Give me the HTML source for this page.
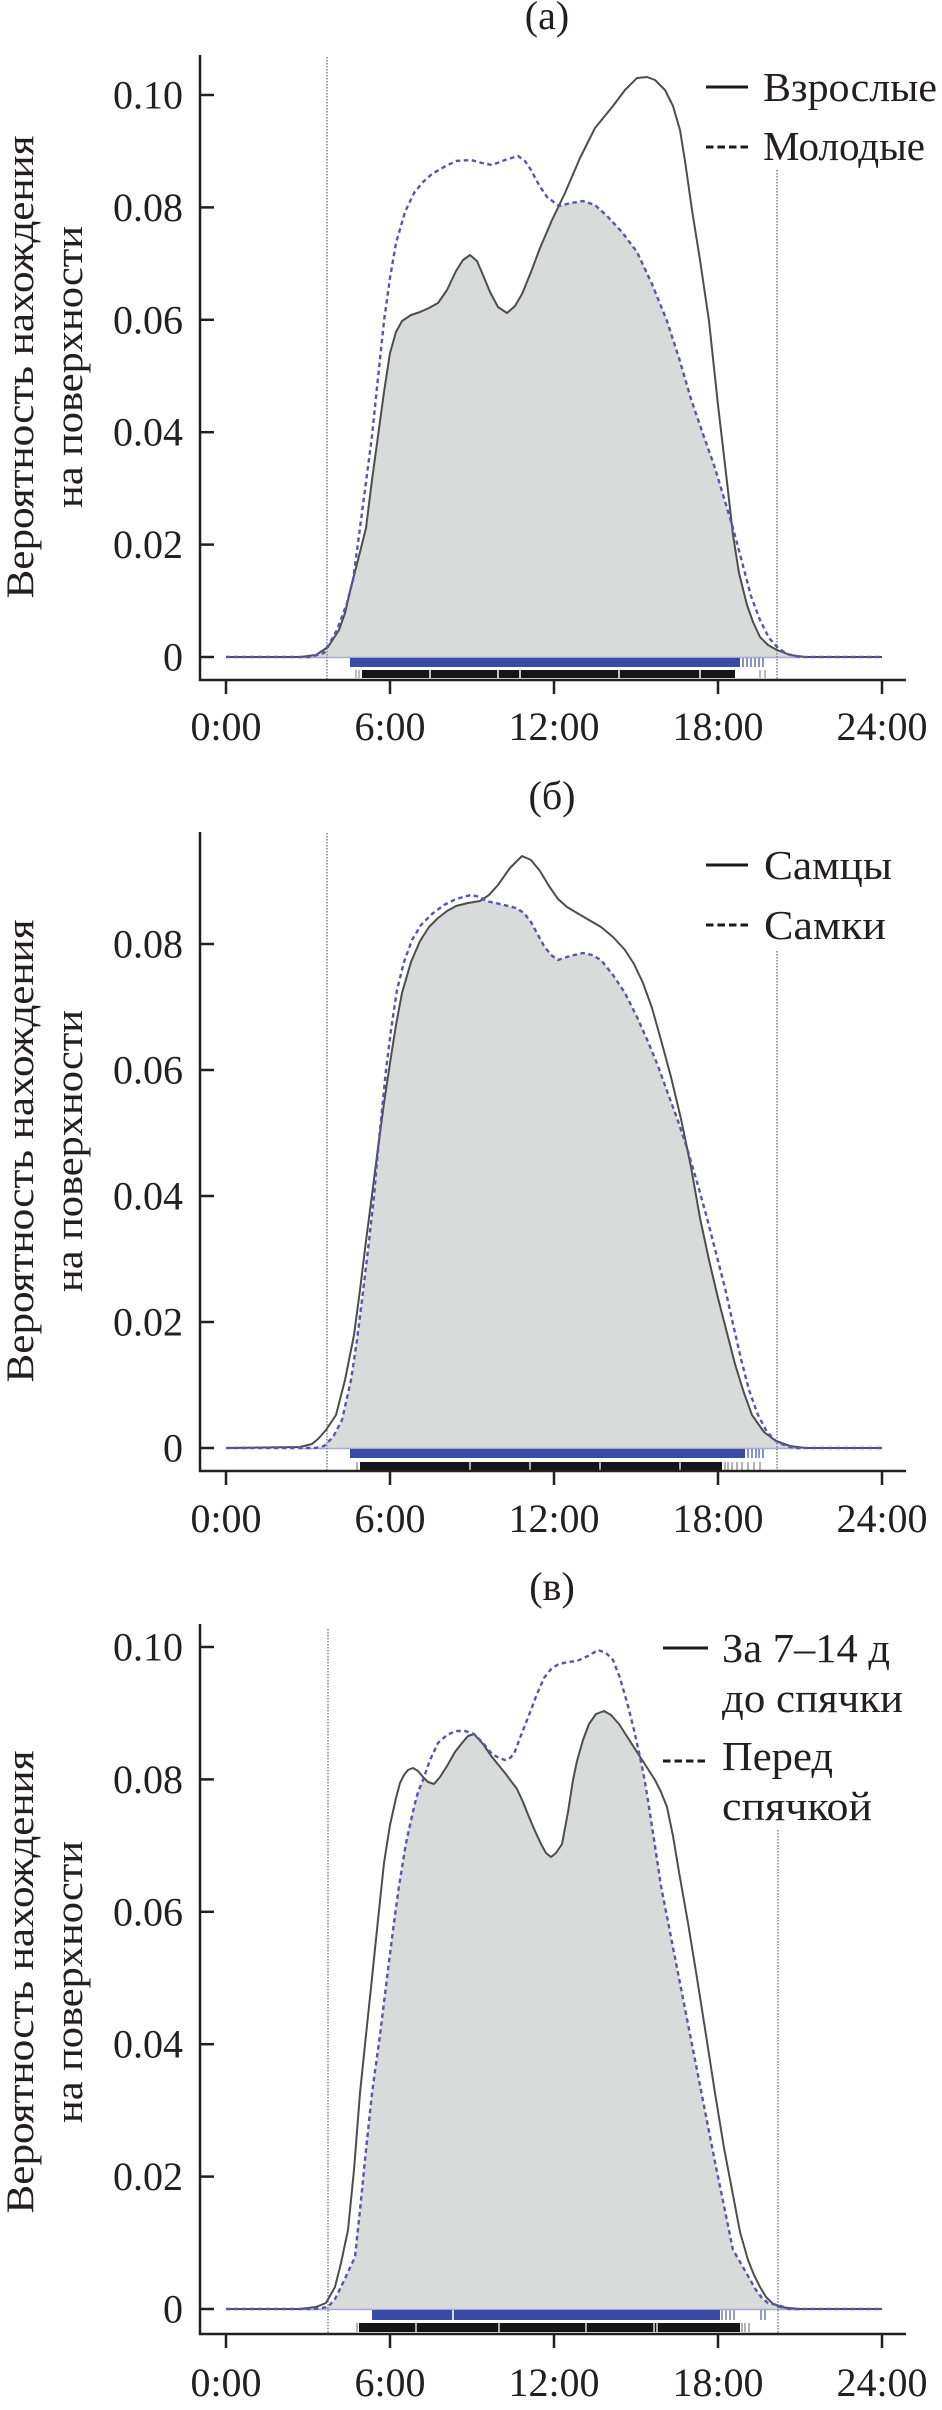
<!DOCTYPE html>
<html>
<head>
<meta charset="utf-8">
<style>
html,body{margin:0;padding:0;background:#ffffff;}
svg{display:block;}
</style>
</head>
<body>
<svg width="942" height="2410" viewBox="0 0 942 2410" xmlns="http://www.w3.org/2000/svg" font-family="'Liberation Serif', 'Noto Serif CJK SC', serif">
<rect x="0" y="0" width="942" height="2410" fill="#ffffff"/>
<defs>
<clipPath id="ca"><path d="M226,657 L310,657 L324,653 L337,630 L347,603 L353,580 L360,528 L366,482 L372,436 L378,378 L384,321 L390,278 L396,243 L405,212 L414,193 L423,182 L432,174 L444,167 L456,161 L471,160 L482,163 L492,165 L505,160 L518,156 L525,161 L531,170 L539,185 L547,197 L559,206 L571,203 L583,201 L595,205 L607,216 L622,232 L637,252 L652,284 L667,321 L679,358 L691,399 L703,434 L715,468 L724,498 L733,528 L742,562 L751,596 L760,620 L769,638 L778,648 L787,654 L800,657 L882,657 Z"/></clipPath>
<clipPath id="cb"><path d="M226,1448 L315,1448 L324,1446 L333,1437 L342,1420 L351,1380 L357,1340 L362,1300 L368,1250 L374,1196 L378,1150 L382,1110 L386,1070 L391,1030 L397,990 L404,962 L412,940 L421,925 L432,914 L444,905 L456,899 L471,895 L480,897 L486,901 L500,904 L516,908 L524,913 L531,922 L538,935 L544,946 L551,955 L558,960 L570,956 L583,953 L592,955 L601,960 L613,975 L625,993 L637,1017 L649,1044 L658,1066 L667,1091 L677,1118 L687,1148 L697,1182 L707,1218 L716,1253 L725,1288 L733,1324 L741,1359 L749,1390 L758,1415 L767,1432 L776,1441 L786,1446 L796,1448 L882,1448 Z"/></clipPath>
<clipPath id="cc"><path d="M226,2309 L315,2309 L328,2307 L335,2299 L341,2287 L348,2272 L355,2257 L360,2210 L366,2150 L372,2093 L380,2035 L387,1978 L393,1930 L399,1886 L406,1843 L414,1807 L418,1792 L423,1780 L430,1760 L438,1743 L447,1735 L456,1731 L465,1731 L474,1734 L483,1743 L492,1754 L499,1758 L505,1760 L510,1758 L514,1754 L520,1738 L529,1715 L537,1694 L544,1678 L552,1668 L559,1664 L568,1662 L577,1661 L588,1656 L598,1650 L606,1653 L613,1660 L620,1678 L628,1706 L634,1730 L640,1757 L645,1782 L649,1807 L655,1846 L661,1886 L670,1932 L679,1978 L688,2024 L697,2070 L706,2116 L715,2162 L724,2206 L733,2250 L739,2260 L748,2276 L756,2290 L762,2298 L768,2303 L781,2306 L789,2309 L882,2309 Z"/></clipPath>
</defs>

<!-- ===================== PANEL A ===================== -->
<text x="547" y="29" font-size="40" text-anchor="middle" fill="#231f20">(а)</text>
<!-- fill -->
<path d="M226,657 L300,657 L316,655 L328,647 L339,630 L345,613 L351,587 L358,560 L366,528 L372,480 L378,436 L384,392 L390,353 L396,332 L402,321 L411,315 L420,312 L429,308 L438,303 L447,290 L456,271 L463,260 L470,255 L477,261 L483,275 L490,292 L498,307 L507,313 L515,306 L522,294 L531,272 L540,248 L552,220 L565,193 L580,158 L595,128 L613,106 L625,90 L637,78 L647,77 L655,80 L665,90 L673,106 L680,130 L685,161 L692,210 L700,260 L709,321 L718,405 L727,482 L733,535 L739,573 L747,605 L753,622 L760,637 L768,645 L777,650 L790,655 L805,657 L882,657 Z" fill="#d9dada" clip-path="url(#ca)"/>
<line x1="300" y1="657.5" x2="800" y2="657.5" stroke="#a9a9d6" stroke-width="1.5"/>
<!-- dotted verticals -->
<line x1="327" y1="57" x2="327" y2="679" stroke="#8a8a8a" stroke-width="1.6" stroke-dasharray="1.5,1.5"/>
<line x1="777" y1="170" x2="777" y2="679" stroke="#8a8a8a" stroke-width="1.6" stroke-dasharray="1.5,1.5"/>
<!-- solid -->
<path d="M226,657 L300,657 L316,655 L328,647 L339,630 L345,613 L351,587 L358,560 L366,528 L372,480 L378,436 L384,392 L390,353 L396,332 L402,321 L411,315 L420,312 L429,308 L438,303 L447,290 L456,271 L463,260 L470,255 L477,261 L483,275 L490,292 L498,307 L507,313 L515,306 L522,294 L531,272 L540,248 L552,220 L565,193 L580,158 L595,128 L613,106 L625,90 L637,78 L647,77 L655,80 L665,90 L673,106 L680,130 L685,161 L692,210 L700,260 L709,321 L718,405 L727,482 L733,535 L739,573 L747,605 L753,622 L760,637 L768,645 L777,650 L790,655 L805,657 L882,657" fill="none" stroke="#4d4d4d" stroke-width="2" stroke-linejoin="round"/>
<!-- dashed -->
<path d="M226,657 L310,657 L324,653 L337,630 L347,603 L353,580 L360,528 L366,482 L372,436 L378,378 L384,321 L390,278 L396,243 L405,212 L414,193 L423,182 L432,174 L444,167 L456,161 L471,160 L482,163 L492,165 L505,160 L518,156 L525,161 L531,170 L539,185 L547,197 L559,206 L571,203 L583,201 L595,205 L607,216 L622,232 L637,252 L652,284 L667,321 L679,358 L691,399 L703,434 L715,468 L724,498 L733,528 L742,562 L751,596 L760,620 L769,638 L778,648 L787,654 L800,657 L882,657" fill="none" stroke="#5656ad" stroke-width="2.4" stroke-dasharray="4.5,3.5" stroke-linejoin="round"/>
<!-- rugs -->
<rect x="350" y="658" width="390" height="9" fill="#3a4ba6"/>
<g stroke="#4a5ab0" stroke-width="1.3">
<line x1="743" y1="658" x2="743" y2="667"/><line x1="747" y1="658" x2="747" y2="667"/><line x1="751" y1="658" x2="751" y2="667"/><line x1="755" y1="658" x2="755" y2="667"/><line x1="759" y1="658" x2="759" y2="667"/><line x1="763" y1="658" x2="763" y2="667"/>
</g>
<rect x="362" y="670" width="373" height="8" fill="#151515"/>
<g stroke="#ffffff" stroke-width="1.5">
<line x1="430" y1="670" x2="430" y2="678"/><line x1="498" y1="670" x2="498" y2="678"/><line x1="520" y1="670" x2="520" y2="678"/><line x1="619" y1="670" x2="619" y2="678"/><line x1="700" y1="670" x2="700" y2="678"/>
</g>
<g stroke="#777" stroke-width="1">
<line x1="356" y1="670" x2="356" y2="678"/><line x1="359" y1="670" x2="359" y2="678"/><line x1="760" y1="670" x2="760" y2="678"/><line x1="765" y1="670" x2="765" y2="678"/>
</g>
<!-- axes -->
<g stroke="#231f20" stroke-width="2.5" fill="none">
<line x1="200" y1="55" x2="200" y2="681"/>
<line x1="199" y1="680" x2="906" y2="680"/>
<line x1="200" y1="95" x2="214" y2="95"/>
<line x1="200" y1="207.4" x2="214" y2="207.4"/>
<line x1="200" y1="319.8" x2="214" y2="319.8"/>
<line x1="200" y1="432.2" x2="214" y2="432.2"/>
<line x1="200" y1="544.6" x2="214" y2="544.6"/>
<line x1="200" y1="657" x2="214" y2="657"/>
<line x1="226" y1="680" x2="226" y2="694"/>
<line x1="390" y1="680" x2="390" y2="694"/>
<line x1="554" y1="680" x2="554" y2="694"/>
<line x1="718" y1="680" x2="718" y2="694"/>
<line x1="882" y1="680" x2="882" y2="694"/>
</g>
<g font-size="40" fill="#231f20" text-anchor="end">
<text x="183" y="108.5">0.10</text>
<text x="183" y="220.9">0.08</text>
<text x="183" y="333.3">0.06</text>
<text x="183" y="445.7">0.04</text>
<text x="183" y="558.1">0.02</text>
<text x="183" y="670.5">0</text>
</g>
<g font-size="40" fill="#231f20" text-anchor="middle">
<text x="226" y="740">0:00</text>
<text x="390" y="740">6:00</text>
<text x="554" y="740">12:00</text>
<text x="718" y="740">18:00</text>
<text x="882" y="740">24:00</text>
</g>
<g font-size="39" fill="#231f20" text-anchor="middle">
<text transform="translate(33,367) rotate(-90)" textLength="463" lengthAdjust="spacingAndGlyphs">Вероятность нахождения</text>
<text transform="translate(82,367) rotate(-90)" textLength="282" lengthAdjust="spacingAndGlyphs">на поверхности</text>
</g>
<!-- legend -->
<line x1="706" y1="87" x2="748" y2="87" stroke="#1a1a1a" stroke-width="3"/>
<line x1="706" y1="147" x2="748" y2="147" stroke="#1a1a1a" stroke-width="3" stroke-dasharray="7.5,4"/>
<g font-size="41" fill="#231f20">
<text x="763" y="101" textLength="174" lengthAdjust="spacingAndGlyphs">Взрослые</text>
<text x="763" y="160" textLength="162" lengthAdjust="spacingAndGlyphs">Молодые</text>
</g>

<!-- ===================== PANEL B ===================== -->
<text x="552" y="809" font-size="40" text-anchor="middle" fill="#231f20">(б)</text>
<path d="M226,1448 L300,1447 L312,1444 L318,1439 L326,1430 L336,1415 L345,1380 L354,1335 L360,1290 L366,1241 L372,1195 L378,1148 L384,1103 L390,1063 L396,1025 L402,993 L411,962 L420,941 L429,927 L438,918 L447,911 L456,906 L468,903 L480,901 L489,895 L498,885 L510,868 L522,856 L531,860 L540,871 L549,886 L558,899 L567,907 L577,913 L589,920 L601,927 L613,937 L625,950 L634,964 L643,983 L652,1008 L661,1040 L671,1077 L681,1119 L691,1167 L700,1218 L709,1260 L718,1298 L727,1333 L735,1364 L744,1393 L752,1415 L764,1432 L776,1441 L790,1446 L805,1448 L882,1448 Z" fill="#d9dada" clip-path="url(#cb)"/>
<line x1="300" y1="1448.5" x2="800" y2="1448.5" stroke="#a9a9d6" stroke-width="1.5"/>
<line x1="327" y1="833" x2="327" y2="1470" stroke="#8a8a8a" stroke-width="1.6" stroke-dasharray="1.5,1.5"/>
<line x1="777" y1="951" x2="777" y2="1470" stroke="#8a8a8a" stroke-width="1.6" stroke-dasharray="1.5,1.5"/>
<path d="M226,1448 L300,1447 L312,1444 L318,1439 L326,1430 L336,1415 L345,1380 L354,1335 L360,1290 L366,1241 L372,1195 L378,1148 L384,1103 L390,1063 L396,1025 L402,993 L411,962 L420,941 L429,927 L438,918 L447,911 L456,906 L468,903 L480,901 L489,895 L498,885 L510,868 L522,856 L531,860 L540,871 L549,886 L558,899 L567,907 L577,913 L589,920 L601,927 L613,937 L625,950 L634,964 L643,983 L652,1008 L661,1040 L671,1077 L681,1119 L691,1167 L700,1218 L709,1260 L718,1298 L727,1333 L735,1364 L744,1393 L752,1415 L764,1432 L776,1441 L790,1446 L805,1448 L882,1448" fill="none" stroke="#4d4d4d" stroke-width="2" stroke-linejoin="round"/>
<path d="M226,1448 L315,1448 L324,1446 L333,1437 L342,1420 L351,1380 L357,1340 L362,1300 L368,1250 L374,1196 L378,1150 L382,1110 L386,1070 L391,1030 L397,990 L404,962 L412,940 L421,925 L432,914 L444,905 L456,899 L471,895 L480,897 L486,901 L500,904 L516,908 L524,913 L531,922 L538,935 L544,946 L551,955 L558,960 L570,956 L583,953 L592,955 L601,960 L613,975 L625,993 L637,1017 L649,1044 L658,1066 L667,1091 L677,1118 L687,1148 L697,1182 L707,1218 L716,1253 L725,1288 L733,1324 L741,1359 L749,1390 L758,1415 L767,1432 L776,1441 L786,1446 L796,1448 L882,1448" fill="none" stroke="#5656ad" stroke-width="2.4" stroke-dasharray="4.5,3.5" stroke-linejoin="round"/>
<!-- rugs -->
<rect x="350" y="1449" width="395" height="9" fill="#3a4ba6"/>
<g stroke="#4a5ab0" stroke-width="1.3">
<line x1="748" y1="1449" x2="748" y2="1458"/><line x1="752" y1="1449" x2="752" y2="1458"/><line x1="756" y1="1449" x2="756" y2="1458"/><line x1="759" y1="1449" x2="759" y2="1458"/><line x1="763" y1="1449" x2="763" y2="1458"/>
</g>
<rect x="360" y="1462" width="362" height="8" fill="#151515"/>
<g stroke="#ffffff" stroke-width="1.3">
<line x1="470" y1="1462" x2="470" y2="1470"/><line x1="530" y1="1462" x2="530" y2="1470"/><line x1="600" y1="1462" x2="600" y2="1470"/><line x1="680" y1="1462" x2="680" y2="1470"/>
</g>
<g stroke="#666" stroke-width="1">
<line x1="357" y1="1462" x2="357" y2="1470"/><line x1="725" y1="1462" x2="725" y2="1470"/><line x1="728" y1="1462" x2="728" y2="1470"/><line x1="732" y1="1462" x2="732" y2="1470"/><line x1="737" y1="1462" x2="737" y2="1470"/><line x1="742" y1="1462" x2="742" y2="1470"/><line x1="748" y1="1462" x2="748" y2="1470"/><line x1="754" y1="1462" x2="754" y2="1470"/><line x1="760" y1="1462" x2="760" y2="1470"/>
</g>
<g stroke="#231f20" stroke-width="2.5" fill="none">
<line x1="200" y1="832" x2="200" y2="1472"/>
<line x1="199" y1="1471" x2="906" y2="1471"/>
<line x1="200" y1="944" x2="214" y2="944"/>
<line x1="200" y1="1070" x2="214" y2="1070"/>
<line x1="200" y1="1196" x2="214" y2="1196"/>
<line x1="200" y1="1322" x2="214" y2="1322"/>
<line x1="200" y1="1448" x2="214" y2="1448"/>
<line x1="226" y1="1471" x2="226" y2="1485"/>
<line x1="390" y1="1471" x2="390" y2="1485"/>
<line x1="554" y1="1471" x2="554" y2="1485"/>
<line x1="718" y1="1471" x2="718" y2="1485"/>
<line x1="882" y1="1471" x2="882" y2="1485"/>
</g>
<g font-size="40" fill="#231f20" text-anchor="end">
<text x="183" y="957.5">0.08</text>
<text x="183" y="1083.5">0.06</text>
<text x="183" y="1209.5">0.04</text>
<text x="183" y="1335.5">0.02</text>
<text x="183" y="1461.5">0</text>
</g>
<g font-size="40" fill="#231f20" text-anchor="middle">
<text x="226" y="1532">0:00</text>
<text x="390" y="1532">6:00</text>
<text x="554" y="1532">12:00</text>
<text x="718" y="1532">18:00</text>
<text x="882" y="1532">24:00</text>
</g>
<g font-size="39" fill="#231f20" text-anchor="middle">
<text transform="translate(33,1151) rotate(-90)" textLength="463" lengthAdjust="spacingAndGlyphs">Вероятность нахождения</text>
<text transform="translate(82,1151) rotate(-90)" textLength="282" lengthAdjust="spacingAndGlyphs">на поверхности</text>
</g>
<line x1="706" y1="865" x2="748" y2="865" stroke="#1a1a1a" stroke-width="3"/>
<line x1="706" y1="925" x2="748" y2="925" stroke="#1a1a1a" stroke-width="3" stroke-dasharray="7.5,4"/>
<g font-size="41" fill="#231f20">
<text x="764" y="879" textLength="128" lengthAdjust="spacingAndGlyphs">Самцы</text>
<text x="764" y="939" textLength="122" lengthAdjust="spacingAndGlyphs">Самки</text>
</g>

<!-- ===================== PANEL C ===================== -->
<text x="552" y="1600" font-size="40" text-anchor="middle" fill="#231f20">(в)</text>
<path d="M226,2309 L300,2309 L316,2307 L326,2303 L335,2287 L341,2263 L348,2230 L354,2170 L360,2093 L366,2035 L372,1978 L378,1920 L384,1863 L390,1825 L396,1798 L400,1783 L404,1775 L408,1770 L413,1768 L418,1771 L423,1777 L428,1782 L434,1784 L440,1777 L447,1766 L455,1752 L462,1743 L468,1736 L474,1734 L483,1744 L492,1757 L505,1773 L517,1789 L523,1802 L529,1817 L535,1831 L541,1844 L546,1853 L551,1857 L556,1853 L562,1844 L568,1812 L573,1780 L577,1761 L583,1740 L589,1724 L596,1714 L604,1711 L611,1715 L619,1724 L628,1738 L637,1752 L646,1766 L655,1780 L661,1792 L667,1807 L673,1836 L679,1872 L688,1923 L697,1978 L706,2035 L715,2093 L724,2148 L733,2195 L740,2232 L748,2260 L754,2275 L760,2287 L766,2297 L772,2303 L780,2307 L789,2308 L800,2309 L882,2309 Z" fill="#d9dada" clip-path="url(#cc)"/>
<line x1="300" y1="2309.5" x2="800" y2="2309.5" stroke="#a9a9d6" stroke-width="1.5"/>
<line x1="328" y1="1629" x2="328" y2="2333" stroke="#8a8a8a" stroke-width="1.6" stroke-dasharray="1.5,1.5"/>
<line x1="778" y1="1830" x2="778" y2="2333" stroke="#8a8a8a" stroke-width="1.6" stroke-dasharray="1.5,1.5"/>
<path d="M226,2309 L300,2309 L316,2307 L326,2303 L335,2287 L341,2263 L348,2230 L354,2170 L360,2093 L366,2035 L372,1978 L378,1920 L384,1863 L390,1825 L396,1798 L400,1783 L404,1775 L408,1770 L413,1768 L418,1771 L423,1777 L428,1782 L434,1784 L440,1777 L447,1766 L455,1752 L462,1743 L468,1736 L474,1734 L483,1744 L492,1757 L505,1773 L517,1789 L523,1802 L529,1817 L535,1831 L541,1844 L546,1853 L551,1857 L556,1853 L562,1844 L568,1812 L573,1780 L577,1761 L583,1740 L589,1724 L596,1714 L604,1711 L611,1715 L619,1724 L628,1738 L637,1752 L646,1766 L655,1780 L661,1792 L667,1807 L673,1836 L679,1872 L688,1923 L697,1978 L706,2035 L715,2093 L724,2148 L733,2195 L740,2232 L748,2260 L754,2275 L760,2287 L766,2297 L772,2303 L780,2307 L789,2308 L800,2309 L882,2309" fill="none" stroke="#4d4d4d" stroke-width="2" stroke-linejoin="round"/>
<path d="M226,2309 L315,2309 L328,2307 L335,2299 L341,2287 L348,2272 L355,2257 L360,2210 L366,2150 L372,2093 L380,2035 L387,1978 L393,1930 L399,1886 L406,1843 L414,1807 L418,1792 L423,1780 L430,1760 L438,1743 L447,1735 L456,1731 L465,1731 L474,1734 L483,1743 L492,1754 L499,1758 L505,1760 L510,1758 L514,1754 L520,1738 L529,1715 L537,1694 L544,1678 L552,1668 L559,1664 L568,1662 L577,1661 L588,1656 L598,1650 L606,1653 L613,1660 L620,1678 L628,1706 L634,1730 L640,1757 L645,1782 L649,1807 L655,1846 L661,1886 L670,1932 L679,1978 L688,2024 L697,2070 L706,2116 L715,2162 L724,2206 L733,2250 L739,2260 L748,2276 L756,2290 L762,2298 L768,2303 L781,2306 L789,2309 L882,2309" fill="none" stroke="#5656ad" stroke-width="2.4" stroke-dasharray="4.5,3.5" stroke-linejoin="round"/>
<!-- rugs -->
<rect x="372" y="2310" width="348" height="10" fill="#3a4ba6"/>
<g stroke="#ffffff" stroke-width="1.6">
<line x1="453" y1="2310" x2="453" y2="2320"/>
</g>
<g stroke="#5a68b8" stroke-width="1.3">
<line x1="722" y1="2310" x2="722" y2="2320"/><line x1="726" y1="2310" x2="726" y2="2320"/><line x1="730" y1="2310" x2="730" y2="2320"/><line x1="734" y1="2310" x2="734" y2="2320"/><line x1="761" y1="2310" x2="761" y2="2320"/><line x1="765" y1="2310" x2="765" y2="2320"/>
</g>
<rect x="359" y="2323" width="381" height="9" fill="#151515"/>
<g stroke="#ffffff" stroke-width="1.3">
<line x1="416" y1="2323" x2="416" y2="2332"/><line x1="499" y1="2323" x2="499" y2="2332"/><line x1="586" y1="2323" x2="586" y2="2332"/><line x1="654" y1="2323" x2="654" y2="2332"/><line x1="657" y1="2323" x2="657" y2="2332"/>
</g>
<g stroke="#666" stroke-width="1">
<line x1="357" y1="2323" x2="357" y2="2332"/><line x1="742" y1="2323" x2="742" y2="2332"/><line x1="745" y1="2323" x2="745" y2="2332"/><line x1="749" y1="2323" x2="749" y2="2332"/>
</g>
<g stroke="#231f20" stroke-width="2.5" fill="none">
<line x1="200" y1="1624" x2="200" y2="2335"/>
<line x1="199" y1="2334" x2="906" y2="2334"/>
<line x1="200" y1="1647" x2="214" y2="1647"/>
<line x1="200" y1="1779.4" x2="214" y2="1779.4"/>
<line x1="200" y1="1911.8" x2="214" y2="1911.8"/>
<line x1="200" y1="2044.2" x2="214" y2="2044.2"/>
<line x1="200" y1="2176.6" x2="214" y2="2176.6"/>
<line x1="200" y1="2309" x2="214" y2="2309"/>
<line x1="226" y1="2334" x2="226" y2="2348"/>
<line x1="390" y1="2334" x2="390" y2="2348"/>
<line x1="554" y1="2334" x2="554" y2="2348"/>
<line x1="718" y1="2334" x2="718" y2="2348"/>
<line x1="882" y1="2334" x2="882" y2="2348"/>
</g>
<g font-size="40" fill="#231f20" text-anchor="end">
<text x="183" y="1660.5">0.10</text>
<text x="183" y="1792.9">0.08</text>
<text x="183" y="1925.3">0.06</text>
<text x="183" y="2057.7">0.04</text>
<text x="183" y="2190.1">0.02</text>
<text x="183" y="2322.5">0</text>
</g>
<g font-size="40" fill="#231f20" text-anchor="middle">
<text x="226" y="2396">0:00</text>
<text x="390" y="2396">6:00</text>
<text x="554" y="2396">12:00</text>
<text x="718" y="2396">18:00</text>
<text x="882" y="2396">24:00</text>
</g>
<g font-size="39" fill="#231f20" text-anchor="middle">
<text transform="translate(33,1982) rotate(-90)" textLength="463" lengthAdjust="spacingAndGlyphs">Вероятность нахождения</text>
<text transform="translate(82,1982) rotate(-90)" textLength="282" lengthAdjust="spacingAndGlyphs">на поверхности</text>
</g>
<line x1="663" y1="1648" x2="708" y2="1648" stroke="#1a1a1a" stroke-width="3"/>
<line x1="663" y1="1761" x2="707" y2="1761" stroke="#1a1a1a" stroke-width="3" stroke-dasharray="7.5,4"/>
<g font-size="41" fill="#231f20">
<text x="722" y="1662" textLength="168" lengthAdjust="spacingAndGlyphs">За 7–14 д</text>
<text x="722" y="1712" textLength="181" lengthAdjust="spacingAndGlyphs">до спячки</text>
<text x="722" y="1770" textLength="111" lengthAdjust="spacingAndGlyphs">Перед</text>
<text x="722" y="1820" textLength="150" lengthAdjust="spacingAndGlyphs">спячкой</text>
</g>
</svg>
</body>
</html>
